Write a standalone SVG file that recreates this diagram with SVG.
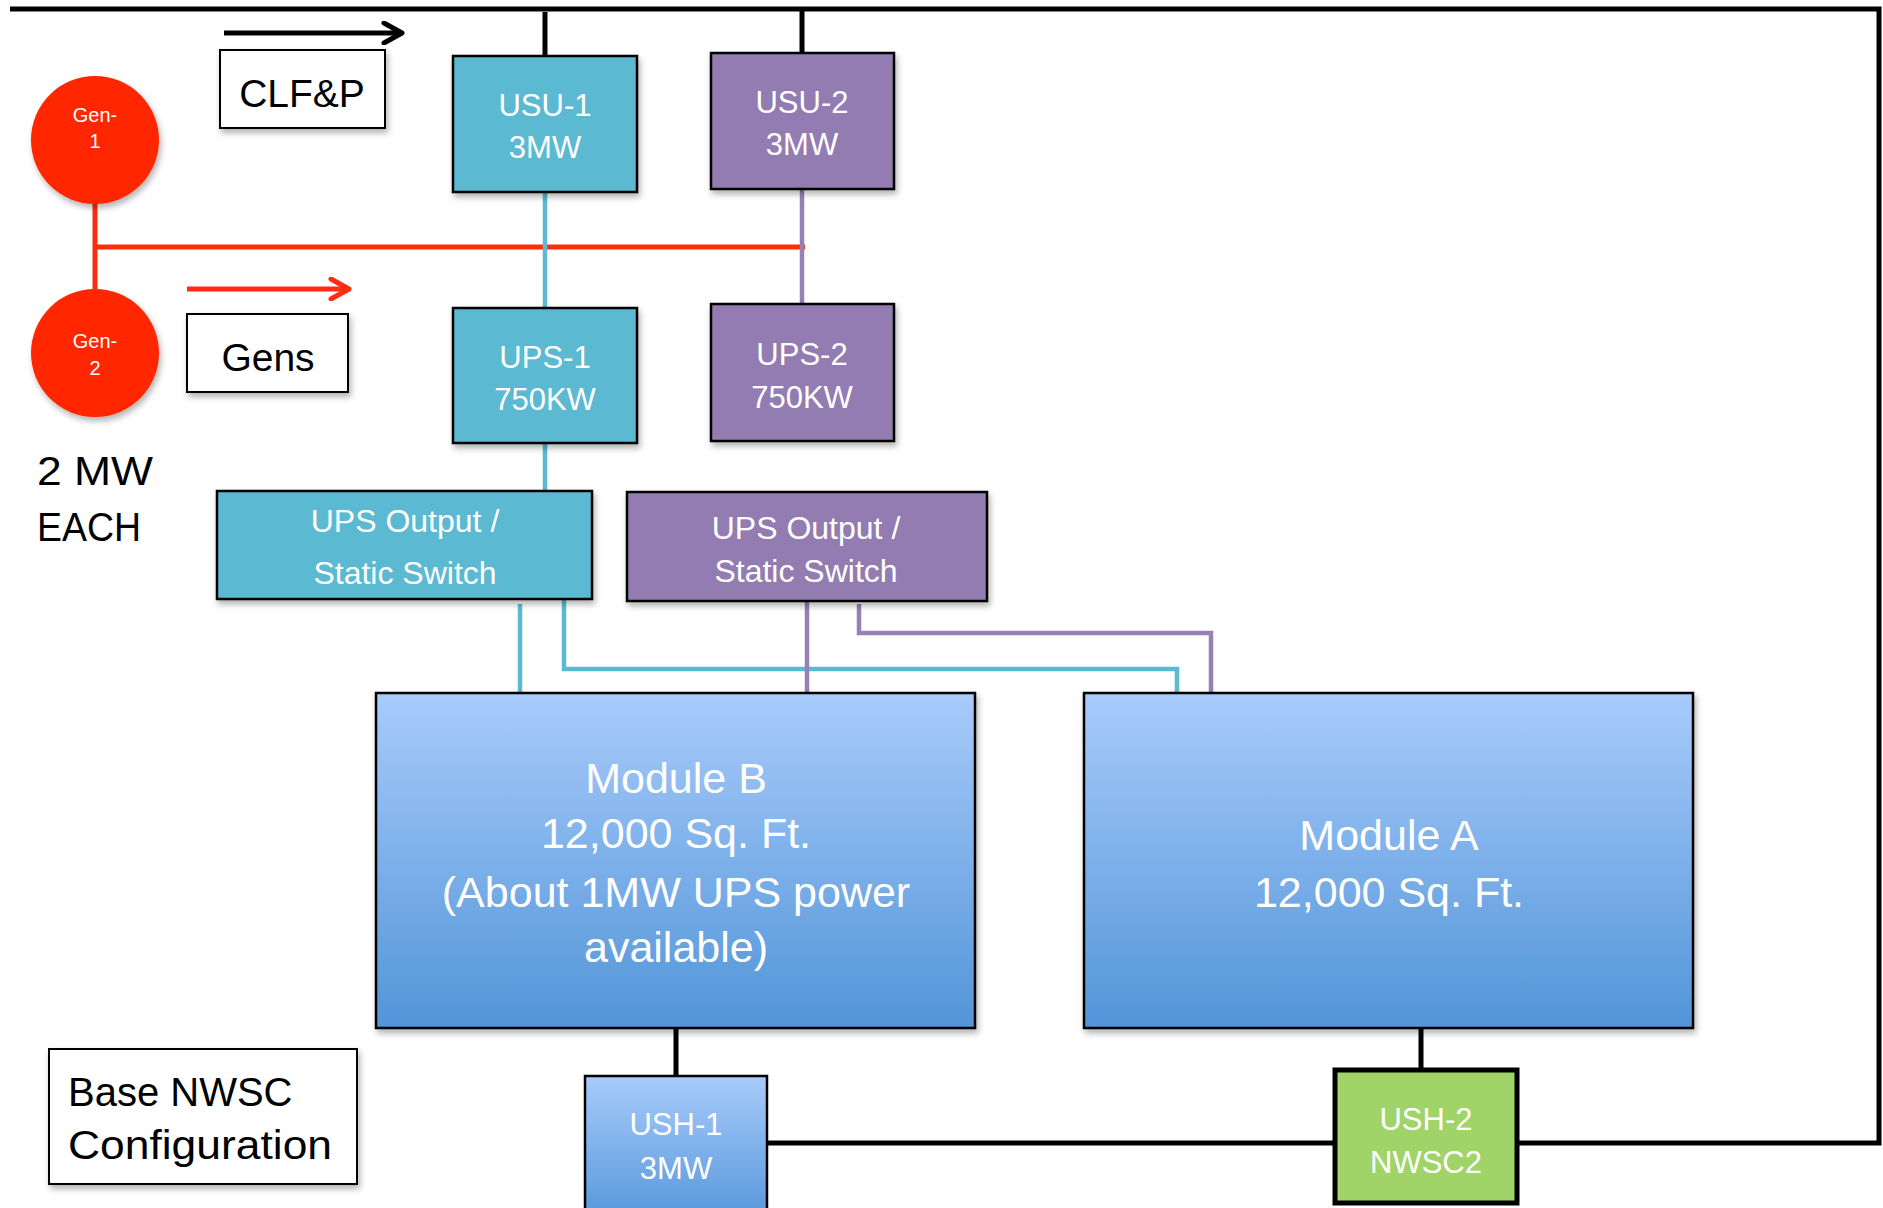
<svg xmlns="http://www.w3.org/2000/svg" width="1883" height="1208" viewBox="0 0 1883 1208">
<style>
  text { font-family: "Liberation Sans", Arial, sans-serif; }
  .w { fill: #ffffff; text-anchor: middle; }
  .k { fill: #000000; }
  .box { stroke: #000000; stroke-width: 2.5; }
  .cy { fill: #5cb9d2; }
  .pu { fill: #937bb1; }
  .lbl { fill: #ffffff; stroke: #000000; stroke-width: 2; }
  .blk { stroke: #000000; stroke-width: 5; fill: none; }
  .cyl { stroke: #5bbad3; stroke-width: 4.5; fill: none; }
  .pul { stroke: #9680b4; stroke-width: 4.5; fill: none; }
  .red { stroke: #ff2d10; stroke-width: 5; fill: none; }
</style>
<defs>
  <filter id="sh" x="-10%" y="-10%" width="130%" height="130%">
    <feDropShadow dx="2" dy="4" stdDeviation="3" flood-color="#000000" flood-opacity="0.3"/>
  </filter>
  <linearGradient id="mod" x1="0" y1="0" x2="0" y2="1">
    <stop offset="0" stop-color="#a8cbfb"/>
    <stop offset="1" stop-color="#5295d8"/>
  </linearGradient>
  <linearGradient id="ush1" x1="0" y1="0" x2="0" y2="1">
    <stop offset="0" stop-color="#a8cbfb"/>
    <stop offset="1" stop-color="#5697da"/>
  </linearGradient>
  <marker id="openArrK" viewBox="0 0 24 24" markerWidth="24" markerHeight="24" refX="21" refY="12" markerUnits="userSpaceOnUse" orient="auto">
    <path d="M3 2 L21 12 L3 22" fill="none" stroke="#000000" stroke-width="5" stroke-linecap="round" stroke-linejoin="round"/>
  </marker>
  <marker id="openArrR" viewBox="0 0 24 24" markerWidth="24" markerHeight="24" refX="21" refY="12" markerUnits="userSpaceOnUse" orient="auto">
    <path d="M3 2 L21 12 L3 22" fill="none" stroke="#ff2d10" stroke-width="5" stroke-linecap="round" stroke-linejoin="round"/>
  </marker>
</defs>
<rect width="1883" height="1208" fill="#ffffff"/>

<g id="connectors">
  <!-- main black bus -->
  <path class="blk" d="M10 9 H1879 V1143 H1519"/>
  <path class="blk" d="M1334 1143 H767"/>
  <path class="blk" d="M545 12 V56" stroke-width="4"/>
  <path class="blk" d="M802 9 V53" stroke-width="4"/>
  <path class="blk" d="M676 1028 V1076" stroke-width="4"/>
  <path class="blk" d="M1421 1028 V1068" stroke-width="4"/>
  <!-- gens bus -->
  <path class="red" d="M95 203 V289"/>
  <path class="red" d="M95 247 H805"/>
  <!-- cyan feeds -->
  <path class="cyl" d="M545 192 V308"/>
  <path class="cyl" d="M545 443 V491"/>
  <path class="cyl" d="M520 604 V693"/>
  <path class="cyl" d="M564 599 V669 H1177 V693"/>
  <!-- purple feeds -->
  <path class="pul" d="M802 189 V304"/>
  <path class="pul" d="M807 601 V693"/>
  <path class="pul" d="M859 604 V633 H1211 V693"/>
  <!-- legend arrows -->
  <path d="M224 33 H402" stroke="#000000" stroke-width="5" fill="none" marker-end="url(#openArrK)"/>
  <path d="M187 289 H349" stroke="#ff2d10" stroke-width="5" fill="none" marker-end="url(#openArrR)"/>
</g>

<g id="gen1">
  <circle cx="95" cy="140" r="64" fill="#ff2600" filter="url(#sh)"/>
  <text class="w" x="95" y="122" font-size="20">Gen-</text>
  <text class="w" x="95" y="148" font-size="20">1</text>
</g>
<g id="gen2">
  <circle cx="95" cy="353" r="64" fill="#ff2600" filter="url(#sh)"/>
  <text class="w" x="95" y="348" font-size="20">Gen-</text>
  <text class="w" x="95" y="375" font-size="20">2</text>
</g>

<g id="clfp">
  <rect class="lbl" x="220" y="50" width="165" height="78" filter="url(#sh)"/>
  <text class="k" x="302" y="107" font-size="39" text-anchor="middle">CLF&amp;P</text>
</g>
<g id="gens">
  <rect class="lbl" x="187" y="314" width="161" height="78" filter="url(#sh)"/>
  <text class="k" x="268" y="371" font-size="39" text-anchor="middle">Gens</text>
</g>
<g id="gen-rating">
  <text class="k" x="37" y="485" font-size="41" textLength="116" lengthAdjust="spacingAndGlyphs">2 MW</text>
  <text class="k" x="37" y="541" font-size="41" textLength="104" lengthAdjust="spacingAndGlyphs">EACH</text>
</g>

<g id="usu1">
  <rect class="box cy" x="453" y="56" width="184" height="136" filter="url(#sh)"/>
  <text class="w" x="545" y="116" font-size="31">USU-1</text>
  <text class="w" x="545" y="158" font-size="31">3MW</text>
</g>
<g id="usu2">
  <rect class="box pu" x="711" y="53" width="183" height="136" filter="url(#sh)"/>
  <text class="w" x="802" y="113" font-size="31">USU-2</text>
  <text class="w" x="802" y="155" font-size="31">3MW</text>
</g>
<g id="ups1">
  <rect class="box cy" x="453" y="308" width="184" height="135" filter="url(#sh)"/>
  <text class="w" x="545" y="368" font-size="31">UPS-1</text>
  <text class="w" x="545" y="410" font-size="31">750KW</text>
</g>
<g id="ups2">
  <rect class="box pu" x="711" y="304" width="183" height="137" filter="url(#sh)"/>
  <text class="w" x="802" y="365" font-size="31">UPS-2</text>
  <text class="w" x="802" y="408" font-size="31">750KW</text>
</g>
<g id="ss1">
  <rect class="box cy" x="217" y="491" width="375" height="108" filter="url(#sh)"/>
  <text class="w" x="405" y="532" font-size="32">UPS Output /</text>
  <text class="w" x="405" y="584" font-size="32">Static Switch</text>
</g>
<g id="ss2">
  <rect class="box pu" x="627" y="492" width="360" height="109" filter="url(#sh)"/>
  <text class="w" x="806" y="539" font-size="32">UPS Output /</text>
  <text class="w" x="806" y="582" font-size="32">Static Switch</text>
</g>

<g id="moduleB">
  <rect class="box" x="376" y="693" width="599" height="335" fill="url(#mod)" stroke-width="2" filter="url(#sh)"/>
  <text class="w" x="676" y="793" font-size="43">Module B</text>
  <text class="w" x="676" y="848" font-size="43">12,000 Sq. Ft.</text>
  <text class="w" x="676" y="907" font-size="43">(About 1MW UPS power</text>
  <text class="w" x="676" y="962" font-size="43">available)</text>
</g>
<g id="moduleA">
  <rect class="box" x="1084" y="693" width="609" height="335" fill="url(#mod)" stroke-width="2" filter="url(#sh)"/>
  <text class="w" x="1389" y="850" font-size="43">Module A</text>
  <text class="w" x="1389" y="907" font-size="43">12,000 Sq. Ft.</text>
</g>

<g id="ush1">
  <rect class="box" x="585" y="1076" width="182" height="145" fill="url(#ush1)" stroke-width="2"/>
  <text class="w" x="676" y="1135" font-size="31">USH-1</text>
  <text class="w" x="676" y="1179" font-size="31">3MW</text>
</g>
<g id="ush2">
  <rect x="1335" y="1070" width="182" height="133" fill="#a0d468" stroke="#000000" stroke-width="5"/>
  <text class="w" x="1426" y="1130" font-size="31">USH-2</text>
  <text class="w" x="1426" y="1173" font-size="31">NWSC2</text>
</g>

<g id="caption">
  <rect class="lbl" x="49" y="1049" width="308" height="135" filter="url(#sh)"/>
  <text class="k" x="68" y="1106" font-size="40">Base NWSC</text>
  <text class="k" x="68" y="1159" font-size="40" textLength="264" lengthAdjust="spacingAndGlyphs">Configuration</text>
</g>
</svg>
